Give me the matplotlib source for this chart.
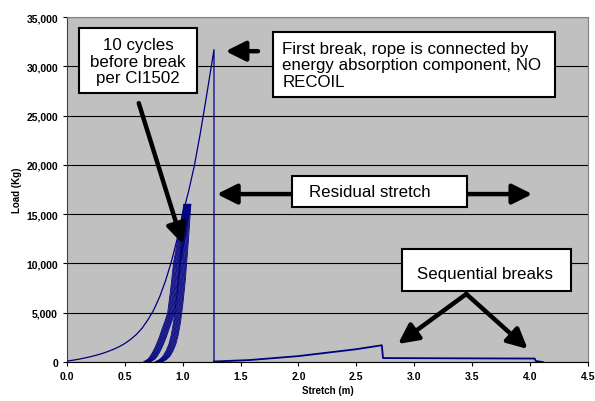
import matplotlib.pyplot as plt
from matplotlib.patches import Rectangle
import numpy as np

plt.rcParams['font.family'] = ['Liberation Sans', 'DejaVu Sans']

# main pull to first break (m, kg)
pull_x = [0.0, 0.05, 0.1, 0.15, 0.2, 0.25, 0.3, 0.35, 0.4, 0.45, 0.5, 0.55, 0.6, 0.65,
          0.7, 0.75, 0.8, 0.85, 0.9, 0.95, 1.0, 1.05, 1.1, 1.15, 1.2, 1.27, 1.27]
pull_y = [100, 180, 280, 400, 530, 680, 850, 1050, 1280, 1550, 1880, 2300, 2800, 3450,
          4300, 5300, 6600, 8200, 10100, 12400, 15000, 17300, 19900, 23100, 26600, 31700, 50]

# residual stretch after first break, with sequential breaks
resid_x = [1.27, 1.58, 2.0, 2.5, 2.72, 2.73, 3.0, 3.5, 4.04, 4.05, 4.11]
resid_y = [50, 200, 600, 1300, 1700, 400, 390, 370, 350, 100, 0]

# the 10 cycles before break (peak stretch of each cycle)
cycle_peak = [1.01, 1.017, 1.023, 1.03, 1.037, 1.043, 1.05, 1.057, 1.063, 1.07]
cycle_load_up = [0, 150, 300, 600, 1000, 1450, 2000, 2600, 3300, 4100, 5000, 7300,
                 10000, 13000, 16000]
cycle_dx_up = [-0.35, -0.33, -0.31, -0.29, -0.27, -0.25, -0.23, -0.21, -0.19, -0.165,
               -0.14, -0.115, -0.09, -0.045, 0.0]
cycle_load_dn = [16000, 12500, 8000, 5800, 4000, 2700, 1800, 1100, 600, 250, 0]
cycle_dx_dn = [0.0, -0.02, -0.05, -0.07, -0.09, -0.11, -0.13, -0.155, -0.18, -0.21, -0.25]

line_col = '#000080'

fig = plt.figure(figsize=(5.95, 4.02), dpi=100)
ax = fig.add_axes([0.1126, 0.097, 0.8754, 0.858])
ax.set_facecolor('#C0C0C0')

ax.plot(pull_x, pull_y, color=line_col, lw=0.9, zorder=3)
ax.plot(resid_x, resid_y, color=line_col, lw=1.3, zorder=3)
for p in cycle_peak:
    ax.plot(p + np.array(cycle_dx_up), cycle_load_up, color=line_col, lw=0.6, zorder=3)
    ax.plot(p + np.array(cycle_dx_dn), cycle_load_dn, color=line_col, lw=0.6, zorder=3)

ax.set_xlim(0, 4.5)
ax.set_ylim(0, 35000)
ax.set_xticks(np.arange(0, 4.51, 0.5))
ax.set_yticks(np.arange(0, 35001, 5000))
ax.set_xticklabels(['%.1f' % v for v in np.arange(0, 4.51, 0.5)])
ax.set_yticklabels(['{:,}'.format(int(v)) for v in np.arange(0, 35001, 5000)])
ax.tick_params(labelsize=7.5, direction='out', length=3, width=0.8)
for lab in ax.get_xticklabels() + ax.get_yticklabels():
    lab.set_fontweight('bold')
ax.yaxis.grid(True, color='black', lw=0.8)
ax.set_axisbelow(True)
for s in ['top', 'right']:
    ax.spines[s].set_color('#808080')
ax.spines['left'].set_color('#404040')
ax.spines['bottom'].set_color('black')
ax.set_xlabel('Stretch (m)', fontsize=7, fontweight='bold', labelpad=3)
ax.set_ylabel('Load (Kg)', fontsize=7, fontweight='bold', labelpad=3)

# annotation boxes
def box(x0, x1, y0, y1):
    ax.add_patch(Rectangle((x0, y0), x1 - x0, y1 - y0, facecolor='white',
                           edgecolor='black', lw=1.5, zorder=5))

fs = 12.2
box(0.104, 1.123, 27280, 33880)
ax.text(0.613, 30500, '10 cycles\nbefore break\nper CI1502', ha='center', va='center',
        fontsize=fs, zorder=6, linespacing=1.12)
box(1.78, 4.214, 26880, 33470)
ax.text(1.86, 30150, 'First break, rope is connected by\nenergy absorption component, NO\nRECOIL',
        ha='left', va='center', fontsize=fs, zorder=6, linespacing=1.12)
box(1.943, 3.454, 15720, 18860)
ax.text(2.09, 17290, 'Residual stretch', ha='left', va='center', fontsize=fs, zorder=6)
box(2.893, 4.352, 7200, 11460)
ax.text(3.02, 8950, 'Sequential breaks', ha='left', va='center', fontsize=fs, zorder=6)

arr = dict(arrowstyle='-|>,head_length=1.2,head_width=0.6', color='black', lw=3.2,
           shrinkA=0, shrinkB=0)
ax.annotate('', xy=(1.00, 11970), xytext=(0.62, 26270), arrowprops=arr, zorder=4)
ax.annotate('', xy=(1.37, 31540), xytext=(1.65, 31540), arrowprops=arr, zorder=4)
ax.annotate('', xy=(1.295, 17040), xytext=(2.0, 17040), arrowprops=arr, zorder=4)
ax.annotate('', xy=(4.02, 17040), xytext=(3.4, 17040), arrowprops=arr, zorder=4)
ax.annotate('', xy=(2.86, 1830), xytext=(3.45, 6900), arrowprops=arr, zorder=4)
ax.annotate('', xy=(3.98, 1320), xytext=(3.45, 6900), arrowprops=arr, zorder=4)

fig.savefig('out.png', dpi=100)
